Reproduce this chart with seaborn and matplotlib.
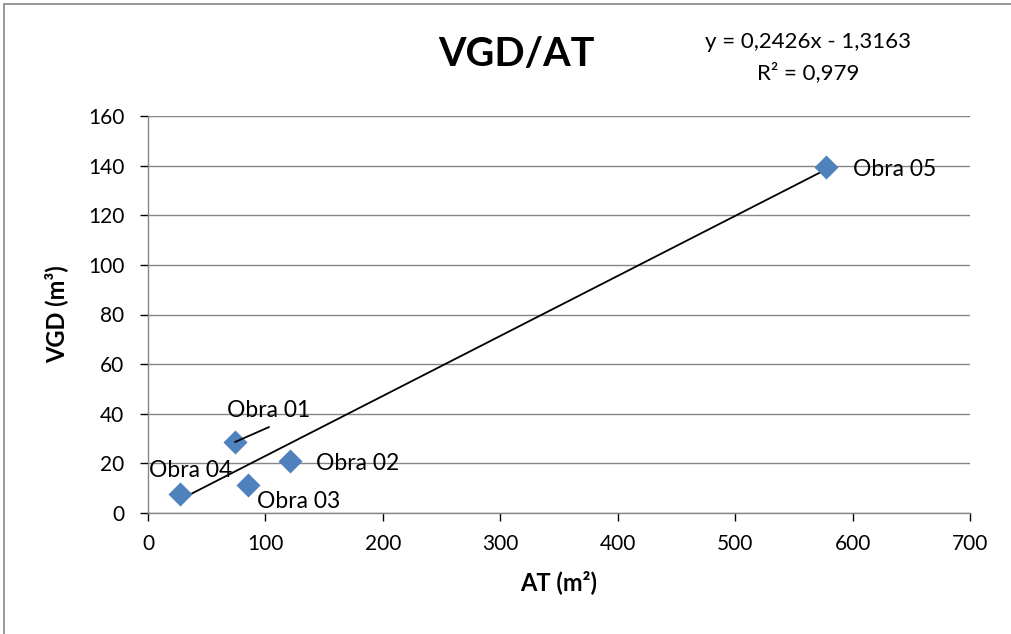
import matplotlib
matplotlib.use("Agg")
import matplotlib.pyplot as plt
import seaborn as sns
import pandas as pd
from matplotlib.patches import Rectangle

obras = ["Obra 01", "Obra 02", "Obra 03", "Obra 04", "Obra 05"]
at_m2 = [74.1, 120.9, 85.2, 27.3, 577.4]
vgd_m3 = [28.6, 21.0, 11.3, 7.7, 139.5]
x_ticks = [0, 100, 200, 300, 400, 500, 600, 700]
y_ticks = [0, 20, 40, 60, 80, 100, 120, 140, 160]
title = "VGD/AT"
equation = "y = 0,2426x - 1,3163"
r2_text = "R² = 0,979"
x_label = "AT (m²)"
y_label = "VGD (m³)"

df = pd.DataFrame({"AT": at_m2, "VGD": vgd_m3, "obra": obras})

sns.set_theme(style="white")
plt.rcParams["font.family"] = ["Lato", "DejaVu Sans"]
plt.rcParams["text.color"] = "black"
plt.rcParams["axes.labelcolor"] = "black"

fig = plt.figure(figsize=(10.12, 6.34), dpi=100)
ax = fig.add_axes([148/1012, 1-513/634, (970-148)/1012, (513-116)/634])

sns.regplot(data=df, x="AT", y="VGD", ax=ax, scatter=False, ci=None,
            line_kws=dict(color="black", lw=1.3))
sns.scatterplot(data=df, x="AT", y="VGD", ax=ax, marker="D", s=150,
                color="#4F81BD", edgecolor="#4F81BD", linewidth=0, zorder=5)

ax.set_xlim(0, 700)
ax.set_ylim(0, 160)
ax.set_xticks(x_ticks)
ax.set_yticks(y_ticks)
ax.tick_params(axis="both", labelsize=15, colors="black", length=6, width=1,
               direction="out", bottom=True, left=True)
ax.tick_params(axis="y", pad=11)
ax.tick_params(axis="x", pad=9)
for t in ax.get_xticklines() + ax.get_yticklines():
    t.set_color("#868686")
ax.yaxis.grid(True, color="#868686", lw=1)
ax.xaxis.grid(False)
for s in ["top", "right"]:
    ax.spines[s].set_visible(False)
for s in ["left", "bottom"]:
    ax.spines[s].set_color("#868686")
    ax.spines[s].set_linewidth(1)

ax.set_xlabel(x_label, fontsize=17, fontweight="bold", labelpad=12, color="black")
ax.set_ylabel(y_label, fontsize=17, fontweight="bold", labelpad=14, color="black")

# data labels (offsets in pixels, baseline aligned)
lab_fs = 16.5
offsets = {
    "Obra 01": (34, 25, "center"),
    "Obra 02": (26, -9, "left"),
    "Obra 03": (9, -23, "left"),
    "Obra 04": (52, 17, "right"),
    "Obra 05": (27, -9, "left"),
}
for name, xv, yv in zip(obras, at_m2, vgd_m3):
    dx, dy, ha = offsets[name]
    ax.annotate(name, xy=(xv, yv), xytext=(dx, dy), textcoords="offset pixels",
                ha=ha, va="baseline", fontsize=lab_fs, zorder=6, color="black")
    if name == "Obra 01":
        ax.annotate("", xy=(xv, yv), xytext=(dx, 15), textcoords="offset pixels",
                    arrowprops=dict(arrowstyle="-", color="black", lw=1.3,
                                    shrinkA=0, shrinkB=0), zorder=6)

fig.text(516/1012, 1-55/634, title, ha="center", va="center",
         fontsize=28.5, fontweight="bold", color="black")
fig.text(808/1012, 1-42/634, equation, ha="center", va="center", fontsize=16,
         color="black")
fig.text(808/1012, 1-73/634, r2_text, ha="center", va="center", fontsize=16,
         color="black")

fig.patches.append(Rectangle((4/1012, -0.1), 2, 1-4/634+0.1, transform=fig.transFigure,
                             fill=False, edgecolor="#868686", lw=1.2))

fig.savefig("out.png", dpi=100)
